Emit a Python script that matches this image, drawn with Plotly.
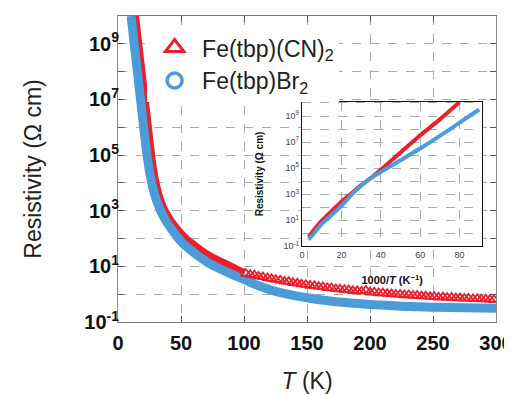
import numpy as np
import plotly.graph_objects as go

# ---------------- data ----------------
# Main panel: Fe(tbp)Br2, temperature (K) and log10 resistivity (Ohm cm)
br_T = [10.4, 11.0, 12.0, 13.0, 14.0, 15.0, 16.0, 17.0, 18.0, 19.0, 20.0, 21.0, 22.0,
        23.0, 24.0, 25.0, 26.0, 27.0, 28.0, 30.0, 32.0, 34.0, 37.0, 40.0, 44.0, 47.0,
        50.0, 55.0, 60.0, 65.0, 72.0, 80.0, 87.5, 95.0, 100.0, 110.0, 125.0, 140.0,
        150.0, 165.0, 180.0, 200.0, 225.0, 250.0, 275.0, 300.0]
br_log_rho = [10.0, 9.75, 9.35, 8.95, 8.55, 8.15, 7.75, 7.35, 6.95, 6.55, 6.15, 5.75, 5.38,
              5.02, 4.7, 4.42, 4.17, 3.95, 3.76, 3.45, 3.2, 2.98, 2.72, 2.5, 2.24, 2.06,
              1.9, 1.68, 1.5, 1.33, 1.12, 0.93, 0.77, 0.62, 0.53, 0.33, 0.1, -0.05,
              -0.13, -0.23, -0.3, -0.37, -0.43, -0.47, -0.49, -0.51]

# Main panel: Fe(tbp)(CN)2, dense low-temperature part
cn_T_dense = [13.4, 14.5, 15.5, 16.5, 17.5, 18.5, 19.5, 20.5, 21.5, 22.5, 23.5, 24.5,
              25.5, 26.5, 27.5, 28.5, 30.0, 32.0, 34.0, 36.5, 40.0, 44.0, 47.0, 50.0,
              55.0, 60.0, 65.0, 72.0, 80.0, 87.5, 95.0, 100.0]
cn_log_rho_dense = [10.05, 9.62, 9.23, 8.84, 8.45, 8.06, 7.67, 7.28, 6.89, 6.5, 6.1, 5.7,
                    5.3, 4.92, 4.58, 4.3, 3.96, 3.6, 3.32, 3.04, 2.76, 2.5, 2.33, 2.17,
                    1.95, 1.77, 1.6, 1.39, 1.2, 1.04, 0.87, 0.76]

# Main panel: Fe(tbp)(CN)2, sparse high-temperature part (individual triangles)
cn_T_sparse = [101.5, 104.9, 108.3, 111.6, 115.0, 118.5, 121.8, 125.2, 128.7, 132.0,
               135.5, 138.8, 142.3, 145.6, 149.1, 152.4, 155.9, 159.3, 162.6, 166.1,
               169.4, 172.9, 176.2, 179.7, 183.1, 186.4, 189.9, 193.2, 196.7, 200.1,
               203.4, 206.9, 210.2, 213.7, 217.1, 220.4, 223.9, 227.2, 230.7, 234.1,
               237.4, 240.9, 244.2, 247.7, 251.1, 254.4, 257.9, 261.2, 264.7, 268.1,
               271.4, 274.9, 278.2, 281.7, 285.1, 288.4, 291.9, 295.2, 298.3]
cn_log_rho_sparse = [0.74, 0.70, 0.68, 0.64, 0.62, 0.58, 0.56, 0.52, 0.50, 0.46,
                     0.45, 0.41, 0.39, 0.36, 0.34, 0.31, 0.30, 0.27, 0.26, 0.23,
                     0.22, 0.19, 0.18, 0.16, 0.15, 0.12, 0.12, 0.10, 0.13, 0.07,
                     0.07, 0.04, 0.04, 0.02, 0.01, -0.01, -0.01, -0.03, -0.03, -0.05,
                     -0.05, -0.07, -0.07, -0.09, -0.09, -0.11, -0.10, -0.12, -0.12, -0.14,
                     -0.14, -0.15, -0.15, -0.17, -0.16, -0.18, -0.18, -0.19, -0.20]

# Inset: 1000/T (1/K) vs log10 resistivity
inset_x_cn = [3.33, 5.0, 10.0, 15.0, 20.0, 25.0, 30.0, 35.0, 40.0, 50.0, 60.0, 70.0, 80.0]
inset_log_cn = [-0.3, 0.05, 0.96, 1.7, 2.42, 3.05, 3.69, 4.25, 4.87, 6.19, 7.52, 8.74, 10.07]
inset_x_br = [3.33, 5.0, 10.0, 15.0, 20.0, 25.0, 30.0, 35.0, 40.0, 50.0, 60.0, 70.0, 80.0, 90.0]
inset_log_br = [-0.49, -0.2, 0.71, 1.4, 2.11, 2.95, 3.65, 4.25, 4.71, 5.6, 6.5, 7.47, 8.49, 9.5]

series_names = ["Fe(tbp)(CN)<sub>2</sub>", "Fe(tbp)Br<sub>2</sub>"]
main_xticks = [0, 50, 100, 150, 200, 250, 300]
inset_xticks = [0, 20, 40, 60, 80]
label_decades = [-1, 1, 3, 5, 7, 9]
minor_decades = [0, 2, 4, 6, 8, 10]

# ---------------- styling ----------------
RED = "#E8212B"
BLUE = "#4B9CD9"
FONT = "Liberation Sans"


def pw(vals):
    return np.power(10.0, np.array(vals, dtype=float))


lab_vals = [10.0 ** k for k in label_decades]
lab_text = ["10<sup>%d</sup>" % k for k in label_decades]
minor_vals = [10.0 ** k for k in minor_decades]

fig = go.Figure()

# main panel traces
fig.add_trace(go.Scatter(x=cn_T_dense, y=pw(cn_log_rho_dense), mode="lines",
                         line=dict(color=RED, width=8, shape="spline", smoothing=0.6),
                         showlegend=False, xaxis="x", yaxis="y"))
fig.add_trace(go.Scatter(x=br_T, y=pw(br_log_rho), mode="lines",
                         line=dict(color=BLUE, width=9, shape="spline", smoothing=0.6),
                         showlegend=False, xaxis="x", yaxis="y"))
fig.add_trace(go.Scatter(x=cn_T_sparse, y=pw(cn_log_rho_sparse), mode="markers",
                         marker=dict(symbol="triangle-up-open", size=9, color=RED,
                                     line=dict(width=1.8, color=RED)),
                         showlegend=False, xaxis="x", yaxis="y"))

# legend entries
fig.add_trace(go.Scatter(x=[None], y=[None], mode="markers", name=series_names[0],
                         marker=dict(symbol="triangle-up-open", size=16, color=RED,
                                     line=dict(width=3, color=RED)),
                         xaxis="x", yaxis="y"))
fig.add_trace(go.Scatter(x=[None], y=[None], mode="markers", name=series_names[1],
                         marker=dict(symbol="circle-open", size=15, color=BLUE,
                                     line=dict(width=3.5, color=BLUE)),
                         xaxis="x", yaxis="y"))

# inset traces
fig.add_trace(go.Scatter(x=inset_x_cn, y=pw(inset_log_cn), mode="lines",
                         line=dict(color=RED, width=4, shape="spline", smoothing=0.5),
                         showlegend=False, xaxis="x2", yaxis="y2"))
fig.add_trace(go.Scatter(x=inset_x_br, y=pw(inset_log_br), mode="lines",
                         line=dict(color=BLUE, width=4, shape="spline", smoothing=0.5),
                         showlegend=False, xaxis="x2", yaxis="y2"))

grid = dict(showgrid=True, gridcolor="#aaaaaa", griddash="dash", gridwidth=1)

fig.update_layout(
    width=512, height=395,
    margin=dict(l=110, r=18, t=7, b=81),
    paper_bgcolor="white", plot_bgcolor="white",
    font=dict(family=FONT, color="#111"),
    showlegend=True,
    legend=dict(x=0.077, y=0.967, xanchor="left", yanchor="top",
                bgcolor="white", borderwidth=0, itemwidth=45,
                font=dict(size=23, color="#222", family=FONT),
                itemsizing="trace", tracegroupgap=0),
    xaxis=dict(domain=[0, 1], range=[0, 300], tickvals=main_xticks,
               ticks="inside", ticklen=6, tickcolor="#555",
               showline=True, mirror="ticks", linecolor="#777", linewidth=1,
               ticklabeloverflow="allow", ticklabelstandoff=3,
               tickfont=dict(size=20, family=FONT, weight="bold", color="#111"),
               title=dict(text="<i>T</i> (K)", font=dict(size=23, family=FONT, color="#222"),
                          standoff=19),
               zeroline=False, **grid),
    yaxis=dict(domain=[0, 1], type="log", range=[-1, 10], tickvals=lab_vals,
               ticktext=lab_text, ticks="inside", ticklen=6, tickcolor="#555",
               minor=dict(tickvals=minor_vals, ticks="inside", ticklen=6, tickcolor="#555",
                          showgrid=True, gridcolor="#aaaaaa", griddash="dash", gridwidth=1),
               showline=True, mirror="ticks", linecolor="#888", linewidth=1,
               tickfont=dict(size=20, family=FONT, weight="bold", color="#111"),
               title=dict(text="Resistivity (Ω cm)", font=dict(size=23, family=FONT, color="#222"),
                          standoff=36),
               ticklabelstandoff=-6,
               zeroline=False, **grid),
    xaxis2=dict(domain=[0.487, 0.9635], anchor="y2", range=[0, 91.5],
                tickvals=inset_xticks, ticks="", showline=True, mirror=True,
                linecolor="#111", linewidth=1.3,
                tickfont=dict(size=9, family=FONT, color="#444"),
                title=dict(text="<b>1000/<i>T</i> (K<sup>−1</sup>)</b>",
                           font=dict(size=11, family=FONT, color="#111"), standoff=17),
                zeroline=False, **grid),
    yaxis2=dict(domain=[0.2476, 0.72], anchor="x2", type="log", range=[-1, 10.1],
                tickvals=lab_vals, ticktext=lab_text, ticks="", showline=True, mirror=True,
                minor=dict(tickvals=minor_vals, showgrid=True, gridcolor="#aaaaaa",
                           griddash="dash", gridwidth=1),
                linecolor="#111", linewidth=1.3,
                tickfont=dict(size=9, family=FONT, color="#444"),
                title=dict(text="<b>Resistivity (Ω cm)</b>",
                           font=dict(size=10, family=FONT, color="#111"), standoff=18),
                zeroline=False, **grid),
)

fig.write_html("out.html")
